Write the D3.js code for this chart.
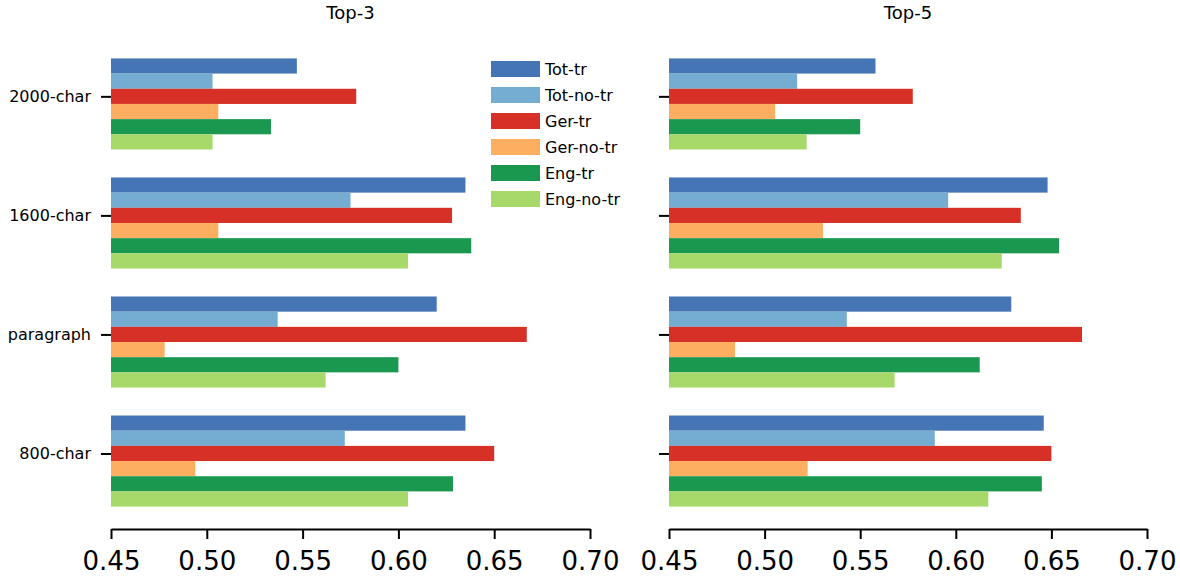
<!DOCTYPE html>
<html><head><meta charset="utf-8">
<script src="https://cdn.jsdelivr.net/npm/d3@7"></script>
<style>body{margin:0;background:#fff}svg{display:block;font-family:"DejaVu Sans",sans-serif}</style>
</head><body><svg id="c" width="1180" height="580"></svg>
<script>
const categories = ["2000-char","1600-char","paragraph","800-char"];
const seriesNames = ["Tot-tr","Tot-no-tr","Ger-tr","Ger-no-tr","Eng-tr","Eng-no-tr"];
const colors = ["#4575b4","#74add1","#d73027","#fdae61","#1a9850","#a6d96a"];
const xTicks = [0.45,0.50,0.55,0.60,0.65,0.70];
const panelTitles = ["Top-3","Top-5"];
// values[series][category]
const top3 = [
  [0.547,0.635,0.620,0.635],
  [0.503,0.575,0.537,0.572],
  [0.578,0.628,0.667,0.650],
  [0.506,0.506,0.478,0.494],
  [0.5335,0.638,0.600,0.6285],
  [0.503,0.605,0.562,0.605]
];
const top5 = [
  [0.558,0.648,0.629,0.646],
  [0.517,0.596,0.543,0.589],
  [0.5775,0.634,0.666,0.650],
  [0.5055,0.5305,0.4845,0.5225],
  [0.550,0.654,0.6125,0.645],
  [0.522,0.624,0.568,0.617]
];

const svg = d3.select("#c");
const w = 0.1275;
const yLo = -2.5*w, yHi = (categories.length-1) + 3.5*w;
const m = 0.05*(yHi-yLo);
const y = d3.scaleLinear().domain([yLo-m, yHi+m]).range([36, 529]);

const panels = [{data:top3, x0:111, x1:590, labels:true},{data:top5, x0:669, x1:1147, labels:false}];
panels.forEach((p,pi)=>{
  const x = d3.scaleLinear().domain([0.45,0.70]).range([p.x0,p.x1]);
  const g = svg.append("g");
  p.data.forEach((vals,si)=>{
    g.selectAll(null).data(vals).enter().append("rect")
      .attr("x", x(0.45))
      .attr("y", (v,ci)=> y(ci + (si-2)*w - w/2))
      .attr("width", v=> x(v)-x(0.45))
      .attr("height", y(w)-y(0))
      .attr("fill", colors[si]);
  });
  // x axis
  const xa = g.append("g").attr("transform","translate(0,529)")
    .call(d3.axisBottom(x).tickValues(xTicks).tickFormat(d3.format(".2f")).tickSize(10).tickSizeOuter(0));
  xa.select(".domain").attr("stroke","#000").attr("stroke-width",2);
  xa.selectAll(".tick line").attr("stroke","#000").attr("stroke-width",2);
  xa.selectAll(".tick text").attr("font-size",26).attr("font-family","DejaVu Sans").attr("fill","#000").attr("dy",null).attr("y",41);
  // y axis (ticks only)
  const ya = g.append("g").attr("transform",`translate(${p.x0},0)`)
    .call(d3.axisLeft(y).tickValues(categories.map((c,i)=>i)).tickFormat(i=> p.labels?categories[i]:"").tickSize(10));
  ya.select(".domain").remove();
  ya.selectAll(".tick line").attr("stroke","#000").attr("stroke-width",2);
  ya.selectAll(".tick text").attr("font-size",16).attr("font-family","DejaVu Sans").attr("fill","#000").attr("x",-20);
  svg.append("text").attr("x",(p.x0+p.x1)/2).attr("y",19).attr("text-anchor","middle")
    .attr("font-size",18).text(panelTitles[pi]);
});

// legend
const lg = svg.append("g");
seriesNames.forEach((s,i)=>{
  const cy = 69 + i*26;
  lg.append("rect").attr("x",491).attr("y",cy-8).attr("width",49).attr("height",16).attr("fill",colors[i]);
  lg.append("text").attr("x",545).attr("y",cy+5.5).attr("font-size",16).text(s);
});
</script></body></html>
